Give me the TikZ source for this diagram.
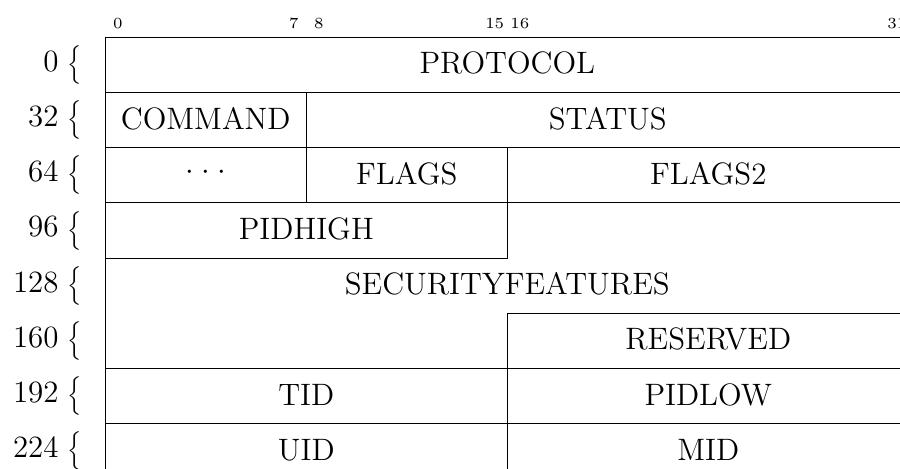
\documentclass[12pt,tikz,border=0pt]{standalone}
\usepackage{graphicx}
\usetikzlibrary{positioning}

\newcommand{\wordbrace}{\scalebox{0.8333}{$\Big\{$}}

\begin{document}
\begin{tikzpicture}[x=9.74pt, y=-21.4pt]
    \tikzstyle{field} = [draw, rectangle, inner sep=0pt, minimum height=21.4pt, minimum width=#1*9.74pt, text height=8.2pt, text depth=1.2pt]
    \tikzstyle{fieldtext} = [inner sep=0pt, text height=8.2pt, text depth=1.2pt]
    \tikzstyle{bitnum} = [font=\tiny, anchor=base, inner sep=0pt]
    \tikzstyle{wordnum} = [anchor=east, inner sep=0pt]

    \useasboundingbox (-4.191,-0.676) rectangle (31.63,7.803);
    \clip (-4.191,-0.676) rectangle (31.63,7.803);

    % bit numbers over the first word
    \node [bitnum] (b0) at (0.5,-0.168) {0};
    \node [bitnum] (b7) at (7.5,-0.168) {7};
    \node [bitnum] (b8) at (8.5,-0.168) {8};
    \node [bitnum] (b15) at (15.5,-0.168) {15};
    \node [bitnum] (b16) at (16.5,-0.168) {16};
    \node [bitnum] (b31) at (31.5,-0.168) {31};

    % word offsets with their braces
    \node [wordnum] (w0) at (-0.93,0.5) {$0$\;\wordbrace};
    \node [wordnum] (w32) at (-0.93,1.5) {$32$\;\wordbrace};
    \node [wordnum] (w64) at (-0.93,2.5) {$64$\;\wordbrace};
    \node [wordnum] (w96) at (-0.93,3.5) {$96$\;\wordbrace};
    \node [wordnum] (w128) at (-0.93,4.5) {$128$\;\wordbrace};
    \node [wordnum] (w160) at (-0.93,5.5) {$160$\;\wordbrace};
    \node [wordnum] (w192) at (-0.93,6.5) {$192$\;\wordbrace};
    \node [wordnum] (w224) at (-0.93,7.5) {$224$\;\wordbrace};

    % header fields
    \node [field=32] (protocol) at (16,0.5) {PROTOCOL};
    \node [field=8] (command) at (4,1.5) {COMMAND};
    \node [field=24] (status) at (20,1.5) {STATUS};
    \node [field=8] (dots) at (4,2.5) {\raisebox{1.9pt}{$\cdotp\kern0.8pt\cdotp\kern0.8pt\cdotp$}};
    \node [field=8] (flags) at (12,2.5) {FLAGS};
    \node [field=16] (flags2) at (24,2.5) {FLAGS2};
    \node [field=16] (pidhigh) at (8,3.5) {PIDHIGH};

    % security features wraps over three words
    \draw (16,3) -- (32,3) -- (32,5) -- (16,5) -- (16,6) -- (0,6) -- (0,4) -- (16,4) -- cycle;
    \node [fieldtext] (secfeat) at (16,4.5) {SECURITYFEATURES};

    \node [field=16] (reserved) at (24,5.5) {RESERVED};
    \node [field=16] (tid) at (8,6.5) {TID};
    \node [field=16] (pidlow) at (24,6.5) {PIDLOW};
    \node [field=16] (uid) at (8,7.5) {UID};
    \node [field=16] (mid) at (24,7.5) {MID};
\end{tikzpicture}
\end{document}
